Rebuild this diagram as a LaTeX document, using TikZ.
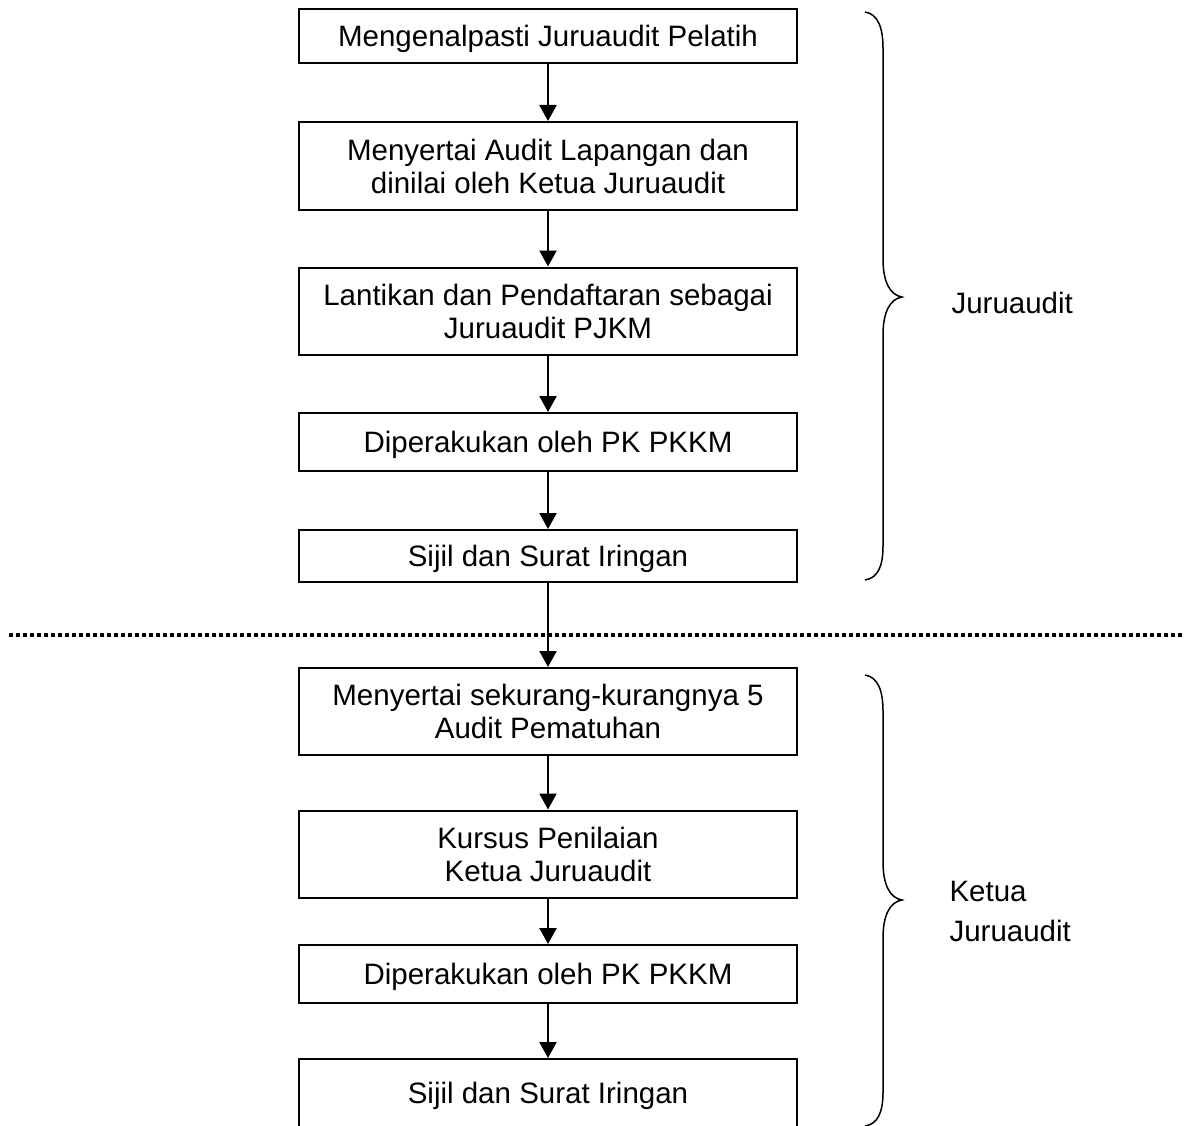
\documentclass[tikz,border=0pt]{standalone}
\usepackage{fontspec}
\setmainfont{Liberation Sans}
\usetikzlibrary{arrows.meta}
\tikzset{
  stepbox/.style={draw, line width=2pt, minimum width=498pt, inner sep=0pt, align=center, font=\fontsize{29.5pt}{33pt}\selectfont},
  oneline/.style={text height=25pt, text depth=4pt},
  arr/.style={line width=2.4pt, -{Triangle[length=16pt,width=17pt]}},
  brc/.style={line width=1.5pt},
  lbl/.style={anchor=west, align=left, font=\fontsize{29.5pt}{40pt}\selectfont}
}
\begin{document}
\begin{tikzpicture}[x=1pt,y=-1pt]
\useasboundingbox (0,0) rectangle (1185,1126);
\clip (0,0) rectangle (1185,1126);
% Juruaudit
\node[stepbox, oneline, minimum height=54pt] (b1) at (548,36) {Mengenalpasti Juruaudit Pelatih};
\node[stepbox, minimum height=88pt] (b2) at (548,166) {Menyertai Audit Lapangan dan\\dinilai oleh Ketua Juruaudit};
\node[stepbox, minimum height=87pt] (b3) at (548,311) {Lantikan dan Pendaftaran sebagai\\Juruaudit PJKM};
\node[stepbox, oneline, minimum height=58pt] (b4) at (548,442) {Diperakukan oleh PK PKKM};
\node[stepbox, oneline, minimum height=52pt] (b5) at (548,556) {Sijil dan Surat Iringan};
% Ketua Juruaudit
\node[stepbox, minimum height=87pt] (b6) at (548,711.5) {Menyertai sekurang-kurangnya 5\\Audit Pematuhan};
\node[stepbox, minimum height=87pt] (b7) at (548,854) {Kursus Penilaian\\Ketua Juruaudit};
\node[stepbox, oneline, minimum height=58pt] (b8) at (548,974) {Diperakukan oleh PK PKKM};
\node[stepbox, oneline, minimum height=68pt] (b9) at (548,1093) {Sijil dan Surat Iringan};
% separator
\draw[line width=4pt, dash pattern=on 4pt off 3pt] (9,635) -- (1185,635);
\draw[arr] (b1) -- (b2);
\draw[arr] (b2) -- (b3);
\draw[arr] (b3) -- (b4);
\draw[arr] (b4) -- (b5);
\draw[arr] (b5) -- (b6);
\draw[arr] (b6) -- (b7);
\draw[arr] (b7) -- (b8);
\draw[arr] (b8) -- (b9);
% braces
\draw[brc] (865,12) .. controls (878,14) and (883,28) .. (883,48) -- (883,259)
  .. controls (883,282) and (890,295) .. (902,297)
  .. controls (890,299) and (883,312) .. (883,335) -- (883,546)
  .. controls (883,566) and (878,578) .. (865,580);
\draw[brc] (865,675) .. controls (878,677) and (883,691) .. (883,711) -- (883,862)
  .. controls (883,885) and (890,898) .. (902,900)
  .. controls (890,902) and (883,915) .. (883,938) -- (883,1092)
  .. controls (883,1112) and (878,1124) .. (865,1126);
\node[lbl] (l1) at (948,303) {Juruaudit};
\node[lbl] (l2) at (946,911) {Ketua\\Juruaudit};
\end{tikzpicture}
\end{document}
